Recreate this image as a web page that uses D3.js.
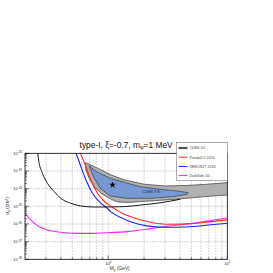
<!DOCTYPE html>
<html>
<head>
<meta charset="utf-8">
<script src="https://cdn.jsdelivr.net/npm/d3@7"></script>
<style>
  body { margin: 0; background: #fff; }
  svg { display: block; font-family: 'Liberation Sans', Arial, sans-serif; }
</style>
</head>
<body>
<div id="chart"></div>
<script>
/* Masses in GeV, cross sections stored as log10(sigma / cm^2) */
const cdexMass = [0.245, 0.255, 0.263, 0.28, 0.309, 0.352, 0.40, 0.486, 0.589, 0.762, 0.987, 1.36, 1.86, 2.73, 4.03];
const cdexLogSigma = [-31.85, -32.0, -32.57, -33.13, -33.7, -34.17, -34.55, -34.83, -34.98, -35.04, -35.04, -35.02, -34.93, -34.8, -34.6];

const pandaxMass = [0.56, 0.582, 0.649, 0.715, 0.813, 0.92, 1.09, 1.3, 1.6, 2.0, 2.6, 3.5, 5.0, 7.0, 10.0];
const pandaxLogSigma = [-31.85, -32.0, -32.75, -33.51, -34.26, -34.7, -35.06, -35.38, -35.62, -35.82, -35.97, -36.02, -35.98, -35.88, -35.77];

const xenonMass = [0.52, 0.535, 0.589, 0.65, 0.738, 0.869, 0.956, 1.05, 1.26, 1.63, 2.11, 2.92, 4.58, 7.0, 10.0];
const xenonLogSigma = [-31.85, -32.0, -32.75, -33.51, -34.26, -34.83, -35.04, -35.3, -35.62, -35.93, -36.11, -36.19, -36.17, -36.06, -35.96];

const darksideMass = [0.2, 0.224, 0.255, 0.309, 0.40, 0.518, 0.715, 0.99, 1.5, 2.2, 3.0, 4.6, 7.0, 10.0];
const darksideLogSigma = [-35.38, -35.77, -36.1, -36.34, -36.47, -36.53, -36.53, -36.5, -36.42, -36.28, -36.15, -36.0, -35.82, -35.66];

/* CDMS II Si regions, closed outlines: upper edge left to right, then lower edge back */
const cdmsOuterMass = [0.641, 0.715, 0.87, 1.05, 1.36, 2.0, 3.0, 4.5, 6.5, 10, 11,
    11, 10, 6.5, 4.5, 4.0, 3.0, 2.0, 1.5, 1.2, 1.02, 0.87, 0.763, 0.692, 0.649];
const cdmsOuterLogSigma = [-32.53, -32.66, -32.94, -33.22, -33.5, -33.75, -33.85, -33.82, -33.76, -33.66, -33.63,
    -34.33, -34.36, -34.45, -34.55, -34.58, -34.64, -34.72, -34.78, -34.76, -34.55, -34.26, -33.89, -33.42, -32.94];

const cdmsInnerMass = [0.69, 0.76, 0.87, 1.05, 1.36, 1.86, 2.73, 3.78, 4.72,
    4.58, 3.54, 2.25, 1.44, 1.04, 0.857, 0.752];
const cdmsInnerLogSigma = [-32.7, -32.95, -33.17, -33.42, -33.64, -33.89, -34.04, -34.13, -34.23,
    -34.32, -34.45, -34.55, -34.55, -34.42, -33.98, -33.32];

const bestFitMass = [1.087];
const bestFitLogSigma = [-33.79];

const xGridMass = [0.3, 0.4, 0.5, 0.6, 0.7, 0.8, 0.9, 2, 3, 4, 5, 6, 7, 8, 9];
const xMajorMass = [1, 10];
const xMajorExponents = ['0', '1'];
const yExponents = [-32, -33, -34, -35, -36, -37, -38];

const legendNames = ['CDEX-10', 'PandaX-II 2016', 'XENON1T 2018', 'DarkSide-50'];
const legendColors = ['#555555', '#ff2a2a', '#2222ff', '#ff22ff'];

/* Layout */
const width = 273;
const height = 273;
const margin = {top: 153.3, right: 45.7, bottom: 13.7, left: 25};
const plotWidth = width - margin.left - margin.right;
const plotHeight = height - margin.top - margin.bottom;

let x = d3.scaleLog().domain([0.2, 10]).range([0, plotWidth]);
let y = d3.scaleLog().domain([1e-38, 1e-32]).range([plotHeight, 0]);

/**
 * Zip mass and log sigma arrays into [mass, sigma] pairs.
 */
function zip(mass, logSigma) {
  return mass.map((m, i) => [m, Math.pow(10, logSigma[i])]);
}

let svgD3 = d3.select('#chart')
    .append('svg')
    .attr('width', width)
    .attr('height', height)
    .attr('viewBox', `0 0 ${width} ${height}`);

svgD3.append('defs')
    .append('clipPath')
    .attr('id', 'plot-clip')
    .append('rect')
    .attr('width', plotWidth)
    .attr('height', plotHeight);

let plotD3 = svgD3.append('g')
    .attr('transform', `translate(${margin.left}, ${margin.top})`);

/* Grid */
let gridD3 = plotD3.append('g')
    .attr('stroke', '#a8a8a8')
    .attr('stroke-width', 0.6)
    .attr('stroke-dasharray', '1.5,1.2');

gridD3.selectAll('line.vgrid')
    .data(xGridMass.concat(xMajorMass.slice(0, 1)))
    .enter()
    .append('line')
    .attr('class', 'vgrid')
    .attr('x1', d => x(d))
    .attr('x2', d => x(d))
    .attr('y1', 0)
    .attr('y2', plotHeight);

gridD3.selectAll('line.hgrid')
    .data(yExponents.slice(1, -1))
    .enter()
    .append('line')
    .attr('class', 'hgrid')
    .attr('x1', 0)
    .attr('x2', plotWidth)
    .attr('y1', d => y(Math.pow(10, d)))
    .attr('y2', d => y(Math.pow(10, d)));

/* Data layer */
let dataD3 = plotD3.append('g')
    .attr('clip-path', 'url(#plot-clip)');

let area = d3.line()
    .x(d => x(d[0]))
    .y(d => y(d[1]))
    .curve(d3.curveLinearClosed);

let curve = d3.line()
    .x(d => x(d[0]))
    .y(d => y(d[1]))
    .curve(d3.curveMonotoneX);

dataD3.append('path')
    .attr('d', area(zip(cdmsOuterMass, cdmsOuterLogSigma)))
    .attr('fill', '#b0b0b0')
    .attr('stroke', '#3a3a3a')
    .attr('stroke-width', 0.7);

dataD3.append('path')
    .attr('d', area(zip(cdmsInnerMass, cdmsInnerLogSigma)))
    .attr('fill', '#7898d4')
    .attr('stroke', '#2a2a2a')
    .attr('stroke-width', 0.6);

dataD3.append('text')
    .attr('x', x(2.3))
    .attr('y', y(Math.pow(10, -34.27)))
    .attr('text-anchor', 'middle')
    .attr('font-size', 3.6)
    .attr('fill', '#222')
    .text('CDMS II Si');

dataD3.selectAll('path.fit')
    .data(zip(bestFitMass, bestFitLogSigma))
    .enter()
    .append('path')
    .attr('class', 'fit')
    .attr('transform', d => `translate(${x(d[0])}, ${y(d[1])})`)
    .attr('d', d3.symbol(d3.symbolStar).size(14))
    .attr('fill', '#000');

let series = [
  {data: zip(darksideMass, darksideLogSigma), color: legendColors[3], width: 1.1},
  {data: zip(xenonMass, xenonLogSigma), color: legendColors[2], width: 1.1},
  {data: zip(pandaxMass, pandaxLogSigma), color: legendColors[1], width: 1.1},
  {data: zip(cdexMass, cdexLogSigma), color: '#000', width: 0.9},
];

dataD3.selectAll('path.limit')
    .data(series)
    .enter()
    .append('path')
    .attr('class', 'limit')
    .attr('d', d => curve(d.data))
    .attr('fill', 'none')
    .attr('stroke', d => d.color)
    .attr('stroke-width', d => d.width);

/* Frame and ticks */
plotD3.append('rect')
    .attr('width', plotWidth)
    .attr('height', plotHeight)
    .attr('fill', 'none')
    .attr('stroke', '#000')
    .attr('stroke-width', 0.8);

let yMinor = [];
for (let e = -38; e < -32; e++) {
  for (let k = 2; k <= 9; k++) yMinor.push(k * Math.pow(10, e));
}

let tickD3 = plotD3.append('g')
    .attr('stroke', '#000')
    .attr('stroke-width', 0.5);

tickD3.selectAll('line.ymajor')
    .data(yExponents)
    .enter()
    .append('line')
    .attr('x1', 0)
    .attr('x2', 4)
    .attr('y1', d => y(Math.pow(10, d)))
    .attr('y2', d => y(Math.pow(10, d)));

tickD3.selectAll('line.yminor')
    .data(yMinor)
    .enter()
    .append('line')
    .attr('x1', 0)
    .attr('x2', 2)
    .attr('y1', d => y(d))
    .attr('y2', d => y(d));

tickD3.selectAll('line.xmajor')
    .data(xMajorMass)
    .enter()
    .append('line')
    .attr('x1', d => x(d))
    .attr('x2', d => x(d))
    .attr('y1', plotHeight)
    .attr('y2', plotHeight - 4);

tickD3.selectAll('line.xminor')
    .data(xGridMass)
    .enter()
    .append('line')
    .attr('x1', d => x(d))
    .attr('x2', d => x(d))
    .attr('y1', plotHeight)
    .attr('y2', plotHeight - 2);

/* Tick labels */
let yLabelD3 = plotD3.selectAll('text.ylabel')
    .data(yExponents)
    .enter()
    .append('text')
    .attr('class', 'ylabel')
    .attr('x', -3)
    .attr('y', d => y(Math.pow(10, d)) + 1.5)
    .attr('text-anchor', 'end')
    .attr('font-size', 4)
    .attr('fill', '#333');
yLabelD3.append('tspan').text('10');
yLabelD3.append('tspan')
    .attr('dy', -1.6)
    .attr('font-size', 3)
    .text(d => d);

let xLabelD3 = plotD3.selectAll('text.xlabel')
    .data(xMajorMass)
    .enter()
    .append('text')
    .attr('class', 'xlabel')
    .attr('x', d => x(d))
    .attr('y', plotHeight + 5.5)
    .attr('text-anchor', 'middle')
    .attr('font-size', 4)
    .attr('fill', '#333');
xLabelD3.append('tspan').text('10');
xLabelD3.append('tspan')
    .attr('dy', -1.6)
    .attr('font-size', 3)
    .text((d, i) => xMajorExponents[i]);

/* Axis titles */
let xTitleD3 = svgD3.append('text')
    .attr('x', margin.left + x(1.25))
    .attr('y', 270)
    .attr('text-anchor', 'middle')
    .attr('font-size', 4.8)
    .attr('fill', '#333');
xTitleD3.append('tspan').text('M');
xTitleD3.append('tspan').attr('font-size', 3.4).attr('dy', 1).text('χ');
xTitleD3.append('tspan').attr('dy', -1).text(' (GeV)');

let yTitleD3 = svgD3.append('text')
    .attr('transform', 'translate(9, 206) rotate(-90)')
    .attr('text-anchor', 'middle')
    .attr('font-size', 4.8)
    .attr('fill', '#333');
yTitleD3.append('tspan').text('σ');
yTitleD3.append('tspan').attr('font-size', 3.4).attr('dy', 1).text('χ');
yTitleD3.append('tspan').attr('dy', -1).text(' (cm');
yTitleD3.append('tspan').attr('font-size', 3.4).attr('dy', -1.5).text('2');
yTitleD3.append('tspan').attr('dy', 1.5).text(')');

/* Title */
let titleD3 = svgD3.append('text')
    .attr('x', margin.left + plotWidth / 2)
    .attr('y', 147.5)
    .attr('text-anchor', 'middle')
    .attr('font-size', 8.4)
    .attr('fill', '#111');
titleD3.append('tspan').text('type-I, ξ=-0.7, m');
titleD3.append('tspan').attr('font-size', 5.6).attr('dy', 1.8).text('φ');
titleD3.append('tspan').attr('dy', -1.8).text('=1 MeV');

/* Legend */
let legendD3 = svgD3.append('g')
    .attr('transform', 'translate(176.5, 142.5)');

legendD3.append('rect')
    .attr('width', width - margin.right - 176.5)
    .attr('height', 38)
    .attr('fill', '#fff')
    .attr('stroke', '#777')
    .attr('stroke-width', 0.6);

let entryD3 = legendD3.selectAll('g.entry')
    .data(legendNames)
    .enter()
    .append('g')
    .attr('class', 'entry')
    .attr('transform', (d, i) => `translate(0, ${5.5 + i * 9.2})`);

entryD3.append('line')
    .attr('x1', 2)
    .attr('x2', 11)
    .attr('stroke', (d, i) => legendColors[i])
    .attr('stroke-width', (d, i) => i === 0 ? 2.2 : 1);

entryD3.append('text')
    .attr('x', 13)
    .attr('y', 1.3)
    .attr('font-size', 3.6)
    .attr('fill', '#444')
    .text(d => d);
</script>
</body>
</html>
